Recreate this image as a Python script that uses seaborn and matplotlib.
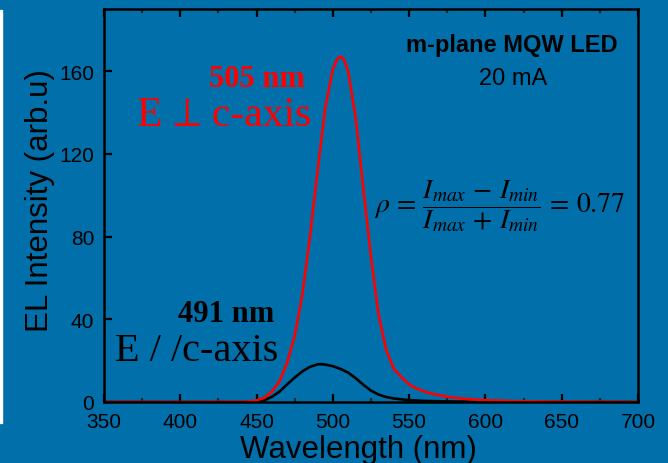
import numpy as np
import pandas as pd
import matplotlib
matplotlib.use('Agg')
import matplotlib.pyplot as plt
import seaborn as sns

# EL spectra (wavelength nm, intensity arb.u)
wl_perp = [350, 400, 440, 445, 450, 455, 460, 465, 470, 475, 480, 485, 490, 495,
           500, 503, 505, 507, 510, 515, 520, 525, 530, 535, 540, 545, 550, 555,
           560, 565, 570, 580, 590, 600, 620, 650, 700]
el_perp = [0, 0, 0.1, 0.3, 0.8, 2, 5, 10, 19, 32, 52, 80, 112, 142,
           161, 166, 167, 166, 160, 137, 103, 70, 42, 25, 16, 12, 8.5, 6.5,
           5, 4, 3.2, 2, 1.3, 0.9, 0.4, 0.2, 0]

wl_par = [350, 400, 440, 450, 455, 460, 465, 470, 475, 480, 485, 490, 493, 497,
          500, 505, 510, 515, 520, 525, 530, 535, 540, 545, 550, 560, 580, 600, 700]
el_par = [0, 0, 0, 0.3, 0.8, 2.5, 5, 8.5, 11.8, 14.8, 17, 18.2, 18.3, 17.8,
          17.3, 16, 14.2, 11.5, 8.3, 5.5, 3.6, 2.4, 1.7, 1.3, 0.9, 0.5, 0.2, 0.1, 0]

x_ticks = [350, 400, 450, 500, 550, 600, 650, 700]
y_ticks = [0, 40, 80, 120, 160]

df = pd.concat([
    pd.DataFrame({'wl': wl_par, 'el': el_par, 'pol': 'par'}),
    pd.DataFrame({'wl': wl_perp, 'el': el_perp, 'pol': 'perp'}),
], ignore_index=True)

sns.set_style('ticks')
plt.rcParams['font.family'] = ['Liberation Sans', 'DejaVu Sans']
plt.rcParams['mathtext.fontset'] = 'stix'
plt.rcParams['text.color'] = 'black'
plt.rcParams['axes.labelcolor'] = 'black'

bg = '#006FAA'
fig = plt.figure(figsize=(6.68, 4.64), dpi=100, facecolor=bg)
ax = fig.add_axes([104 / 668, 1 - 403 / 464, 534 / 668, 393 / 464])
ax.set_facecolor(bg)

sns.lineplot(data=df, x='wl', y='el', hue='pol', hue_order=['par', 'perp'],
             palette={'par': 'black', 'perp': '#FF0000'}, linewidth=1.9,
             legend=False, ax=ax)

ax.set_xlim(350, 700)
ax.set_ylim(0, 190)
ax.set_xticks(x_ticks)
ax.set_xticks(np.arange(375, 700, 50), minor=True)
ax.set_yticks(y_ticks)
ax.tick_params(axis='x', which='major', direction='in', length=6, width=1.6,
               labelsize=15, colors='black', top=True, pad=7)
ax.tick_params(axis='x', which='minor', direction='in', length=3, width=1.6,
               top=True)
ax.tick_params(axis='y', which='major', direction='in', length=6, width=1.6,
               labelsize=15, colors='black', pad=7)
for s in ax.spines.values():
    s.set_linewidth(1.8)
    s.set_color('black')

ax.set_xlabel('Wavelength (nm)', fontsize=22.5, va='top')
ax.xaxis.set_label_coords(0.4757, -0.082)
ax.set_ylabel('EL Intensity (arb.u)', fontsize=22.5)
ax.yaxis.set_label_coords(-0.092, 0.514)

serif = ['Liberation Serif', 'STIXGeneral', 'DejaVu Serif']
ax.text(450, 153, '505 nm', color='#FF0000', fontsize=22, fontweight='bold',
        family=serif, ha='center', va='baseline')
ax.text(428.5, 134, 'E \u22a5 c-axis', color='#FF0000', fontsize=30,
        family=serif, ha='center', va='baseline')
ax.text(430, 39, '491 nm', color='black', fontsize=22, fontweight='bold',
        family=serif, ha='center', va='baseline')
ax.text(410.5, 20.5, 'E / /c-axis', color='black', fontsize=29,
        family=serif, ha='center', va='baseline')
ax.text(617.5, 169.5, 'm-plane MQW LED', color='black', fontsize=17,
        fontweight='bold', ha='center', va='baseline')
ax.text(618, 153.5, '20 mA', color='black', fontsize=17,
        ha='center', va='baseline')
ax.text(609.5, 95,
        r'$\rho\,=\,\dfrac{I_{max}\,-\,I_{min}}{I_{max}\,+\,I_{min}}\,=\,0.77$',
        color='black', fontsize=20, ha='center', va='center')

fig.patches.append(plt.Rectangle((0, 1 - 424 / 464), 2 / 668, 413 / 464,
                                 transform=fig.transFigure, color='white',
                                 zorder=0))

fig.savefig('out.png', dpi=100, facecolor=bg)
